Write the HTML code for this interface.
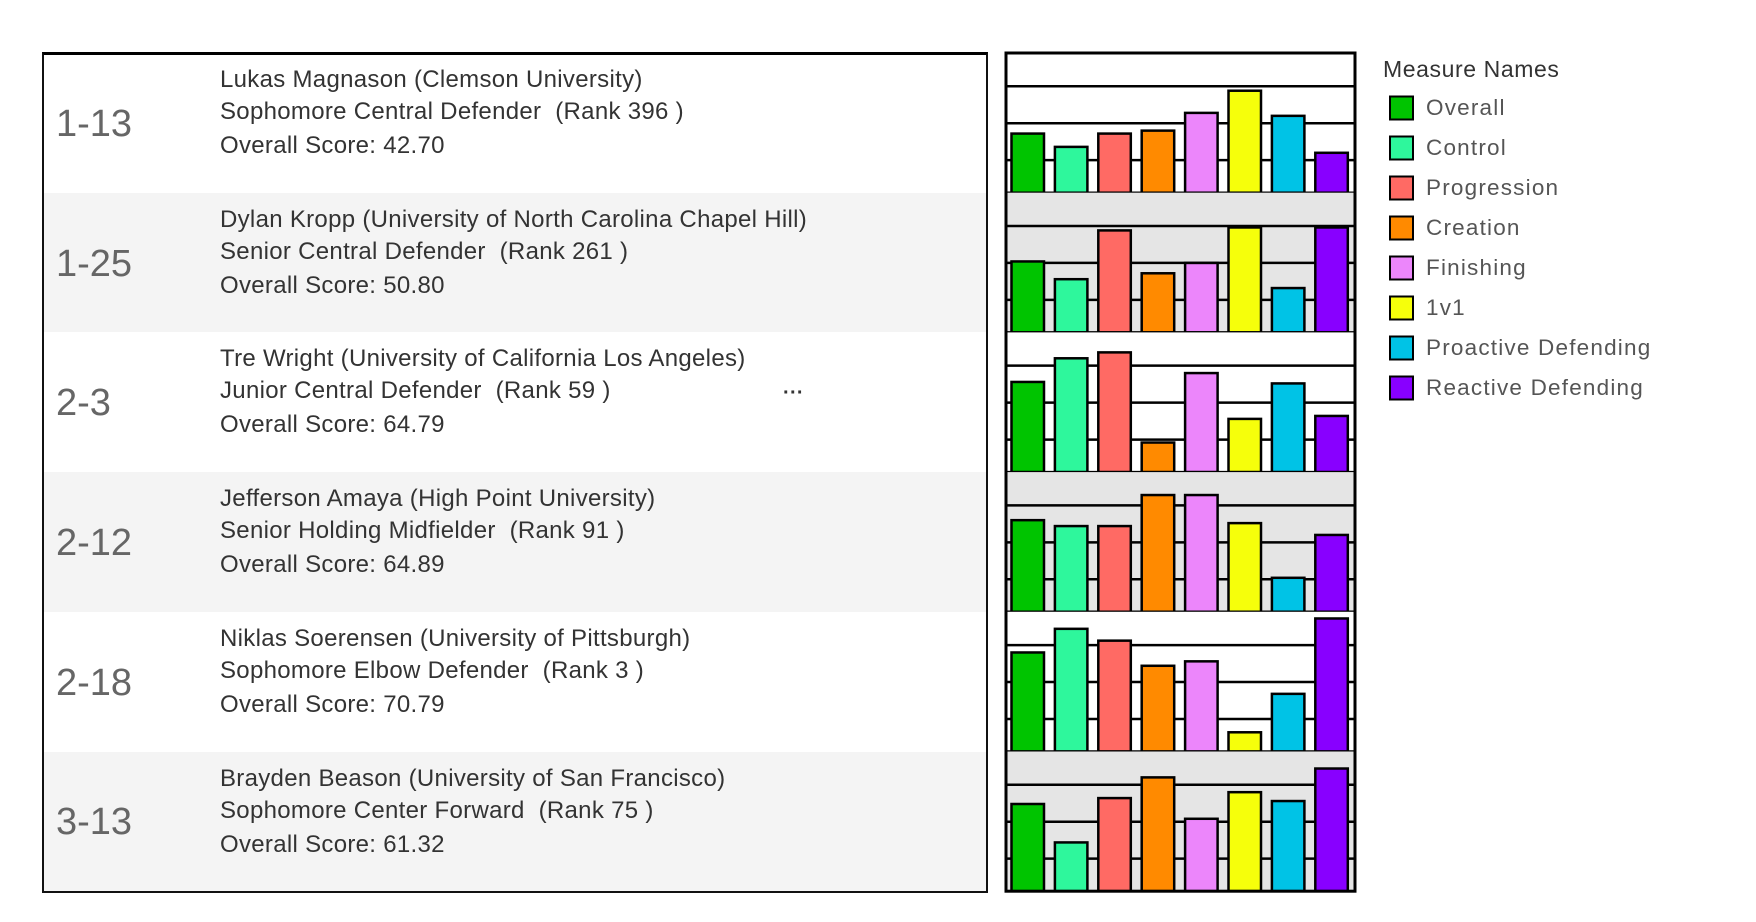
<!DOCTYPE html>
<html><head><meta charset="utf-8">
<style>
body{margin:0;width:1756px;height:922px;background:#fff;overflow:hidden;position:relative;font-family:"Liberation Sans",sans-serif;}
.row{position:absolute;left:43px;width:945px;}
.lbl{position:absolute;left:13px;font-size:38px;color:#666;line-height:1;}
.ln{position:absolute;left:177px;font-size:24px;letter-spacing:0.3px;color:#333;white-space:pre;line-height:1;transform:translateY(-50%);}
.lg{position:absolute;left:1426px;font-size:22.5px;color:#555;letter-spacing:1.2px;transform:translateY(-50%);line-height:1;}
.sw{position:absolute;left:1389px;width:21px;height:21px;border:2px solid #000;transform:translateY(-50%);}
</style></head><body>
<div id="table" style="position:absolute;left:42px;top:52px;width:946px;height:841px;border:2px solid #111;border-top:3px solid #000;box-sizing:border-box;"></div>
<svg id="chart" width="1756" height="922" style="position:absolute;left:0;top:0"></svg>
<div style="position:absolute;left:1383px;top:56px;font-size:23px;color:#333;letter-spacing:0.6px;">Measure Names</div>
<div id="legend"></div>
<script>
const players=["Lukas Magnason (Clemson University)","Dylan Kropp (University of North Carolina Chapel Hill)","Tre Wright (University of California Los Angeles)","Jefferson Amaya (High Point University)","Niklas Soerensen (University of Pittsburgh)","Brayden Beason (University of San Francisco)"];
const positions=["Sophomore Central Defender  (Rank 396 )","Senior Central Defender  (Rank 261 )","Junior Central Defender  (Rank 59 )","Senior Holding Midfielder  (Rank 91 )","Sophomore Elbow Defender  (Rank 3 )","Sophomore Center Forward  (Rank 75 )"];
const scores=["42.70","50.80","64.79","64.89","70.79","61.32"];
const codes=["1-13","1-25","2-3","2-12","2-18","3-13"];
const measures=["Overall","Control","Progression","Creation","Finishing","1v1","Proactive Defending","Reactive Defending"];
const colors=["#00c400","#2ef79c","#ff6a64","#ff8a00","#ec86fb","#f6ff0b","#00c3e6","#8800ff"];
const values=[
[40,31,40,42,54,69,52,27],
[48,36,69,40,47,71,30,71],
[61,77,81,20,67,36,60,38],
[62,58,58,79,79,60,23,52],
[67,83,75,58,61,13,39,90],
[59,33,63,77,49,67,61,83]];
const gridTicks=[22,47,72];

const top0=53, rowH=139.7, unit=1.478;
const px0=1006, pw=349;
const barX0=1011.5, pitch=43.4, bw=32.5;
const ns="http://www.w3.org/2000/svg";
const svg=document.getElementById('chart');
const y=(r,v)=>top0+(r+1)*rowH-v*unit;
function mk(t,a){const e=document.createElementNS(ns,t);for(const k in a)e.setAttribute(k,a[k]);svg.appendChild(e);return e;}

for(let r=0;r<values.length;r++){
  const rt=top0+r*rowH;
  const rowDiv=document.createElement('div');
  rowDiv.className='row';
  
  
  rowDiv.style.top=rt+'px';rowDiv.style.height=rowH+'px';
  rowDiv.style.background=r%2?'#f4f4f4':'transparent';
  rowDiv.innerHTML='<div class="lbl" style="top:'+(rowH*0.5-18)+'px">'+codes[r]+'</div>'+
   '<div class="ln" style="top:27px">'+players[r]+'</div>'+
   '<div class="ln" style="top:59px">'+positions[r]+'</div>'+
   '<div class="ln" style="top:93px">Overall Score: '+scores[r]+'</div>'+
   (r==2?'<div class="ln" style="left:740px;top:61px;font-weight:bold;font-size:20px">···</div>':'');
  document.body.insertBefore(rowDiv,document.getElementById('table'));
  const bg=mk('rect',{x:px0,y:rt,width:pw,height:rowH,fill:r%2?'#e5e5e5':'#fff'});
  
  
  gridTicks.forEach(t=>{const g=mk('line',{x1:px0,x2:px0+pw,y1:y(r,t),y2:y(r,t),stroke:'#000','stroke-width':2.5});
    
    });
  values[r].forEach((v,i)=>{
    const b=mk('rect',{x:barX0+i*pitch,y:y(r,v),width:bw,height:v*unit,fill:colors[i],stroke:'#000','stroke-width':2.5});
    
    
  });
  const bl=mk('line',{x1:px0,x2:px0+pw,y1:rt+rowH,y2:rt+rowH,stroke:'#000','stroke-width':2.5});
  
  
}
const fr=mk('rect',{x:px0,y:top0,width:pw,height:rowH*6,fill:'none',stroke:'#000','stroke-width':3});



const lg=document.getElementById('legend');
measures.forEach((m,i)=>{
  const cy=107.5+i*40;
  const s=document.createElement('div');s.className='sw';s.style.top=cy+'px';s.style.background=colors[i];
  
  
  const t=document.createElement('div');t.className='lg';t.style.top=cy+'px';t.textContent=m;
  
  
  lg.appendChild(s);lg.appendChild(t);
});
</script>
</body></html>
